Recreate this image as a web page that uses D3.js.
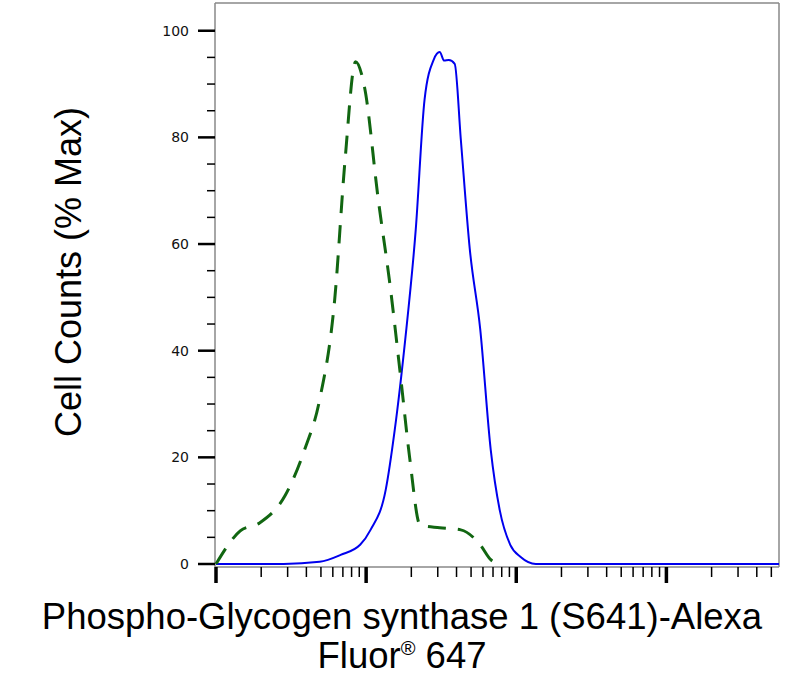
<!DOCTYPE html><html><head><script src="https://cdn.jsdelivr.net/npm/d3@7"></script>
<style>body{margin:0;background:#fff}</style></head><body><svg id="c" width="803" height="692"></svg>
<script>
const greenX=[1,1.45,1.95,2.88,3.89,4.9,6.17,7.24,8.51,9.77,12.0,14.5,17.0,19.5,22.9,30.9,42.7,57.5,67.6,77.6];
const greenY=[0,6.2,7.7,12.8,21.4,30.8,49.5,75.8,94.2,89.3,68.7,51.8,34.9,19.9,7.3,6.8,6.4,3.6,0.8,0];
const blueX=[1,2.82,4.9,6.76,9.12,10.7,13.5,15.5,18.2,21.4,24.5,28.2,30.9,33.1,35.5,38.9,42.7,49.0,57.5,67.6,77.6,91.2,107,135,5623];
const blueY=[0,0,0.4,1.7,3.6,6.4,13.9,25.1,42,62.7,87.1,94.6,96,94.4,94.5,93.8,79.7,59.1,44.1,21.4,10.1,3.6,1.3,0,0];
const yTicks=[0,20,40,60,80,100];
const svg=d3.select("#c");
const L=216,R=779,T=3,B=564;
const x=d3.scaleLog().domain([1,5623]).range([L,R]);
const y=d3.scaleLinear().domain([0,105.2]).range([B,T]);
const g="#888";
svg.append("line").attr("x1",L-1).attr("x2",R).attr("y1",T).attr("y2",T).attr("stroke",g).attr("stroke-width",1.5);
svg.append("line").attr("x1",R).attr("x2",R).attr("y1",T).attr("y2",567).attr("stroke",g).attr("stroke-width",1.5);
svg.append("line").attr("x1",L-1).attr("x2",L-1).attr("y1",T).attr("y2",567).attr("stroke",g).attr("stroke-width",1.5);
svg.append("line").attr("x1",L-1).attr("x2",R).attr("y1",567).attr("y2",567).attr("stroke",g).attr("stroke-width",1.5);
d3.range(0,105,5).forEach(v=>{const maj=v%20===0;
 svg.append("line").attr("x1",maj?198:207).attr("x2",L-1).attr("y1",y(v)).attr("y2",y(v)).attr("stroke","#000").attr("stroke-width",maj?2.5:1.5);});
yTicks.forEach(v=>svg.append("text").attr("x",189).attr("y",y(v)+5).attr("text-anchor","end").attr("font-family","DejaVu Sans, Arial").attr("font-size",14).attr("fill","#111").text(v));
x.ticks().forEach(v=>{const e=Math.log10(v);const maj=Math.abs(e-Math.round(e))<1e-6;
 svg.append("line").attr("x1",x(v)).attr("x2",x(v)).attr("y1",567).attr("y2",maj?583:577).attr("stroke","#000").attr("stroke-width",maj?3.5:1.5);});
const line=d3.line().x(d=>x(d[0])).y(d=>y(d[1])).curve(d3.curveMonotoneX);
svg.append("path").attr("d",line(blueX.map((v,i)=>[v,blueY[i]]))).attr("fill","none").attr("stroke","#0000ee").attr("stroke-width",2);
svg.append("path").attr("d",line(greenX.map((v,i)=>[v,greenY[i]]))).attr("fill","none").attr("stroke","#116611").attr("stroke-width",3).attr("stroke-dasharray","18,12");
const f="Liberation Sans, Arial";
svg.append("text").attr("x",402).attr("y",629).attr("text-anchor","middle").attr("font-family",f).attr("font-size",36.5).text("Phospho-Glycogen synthase 1 (S641)-Alexa");
const t=svg.append("text").attr("x",402).attr("y",668).attr("text-anchor","middle").attr("font-family",f).attr("font-size",36.5);
t.append("tspan").text("Fluor");t.append("tspan").attr("font-size",20).attr("dy",-13).text("®");t.append("tspan").attr("dy",13).text(" 647");
svg.append("text").attr("transform","translate(81,272) rotate(-90)").attr("text-anchor","middle").attr("font-family",f).attr("font-size",36).text("Cell Counts (% Max)");
</script></body></html>
